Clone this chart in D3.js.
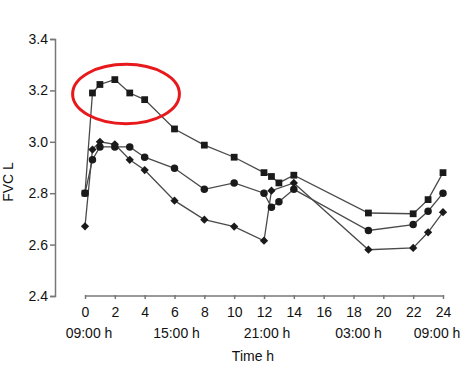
<!DOCTYPE html>
<html><head><meta charset="utf-8">
<script src="https://cdn.jsdelivr.net/npm/d3@7/dist/d3.min.js"></script>
<style>body{margin:0;background:#fff}svg{display:block;font-family:"Liberation Sans",Arial,sans-serif}</style>
</head><body><svg id="c" width="472" height="387"></svg>
<script>
const timesSquare = [0,0.5,1,2,3,4,6,8,10,12,12.5,13,14,19,22,23,24];
const valuesSquare = [2.80,3.19,3.223,3.242,3.19,3.164,3.05,2.987,2.94,2.88,2.865,2.84,2.87,2.723,2.72,2.775,2.88];
const timesCircle = [0,0.5,1,2,3,4,6,8,10,12,12.5,13,14,19,22,23,24];
const valuesCircle = [2.80,2.93,2.98,2.98,2.98,2.94,2.897,2.815,2.84,2.80,2.745,2.767,2.815,2.655,2.678,2.73,2.80];
const timesDiamond = [0,0.5,1,2,3,4,6,8,10,12,12.5,14,19,22,23,24];
const valuesDiamond = [2.671,2.97,3.0,2.99,2.93,2.89,2.771,2.697,2.67,2.615,2.81,2.84,2.58,2.587,2.648,2.726];
const yTicks = [2.4,2.6,2.8,3.0,3.2,3.4];
const xTicks = [0,2,4,6,8,10,12,14,16,18,20,22,24];
const clockTimes = [0,6,12,18,24];
const clockLabels = ["09:00 h","15:00 h","21:00 h","03:00 h","09:00 h"];

const svg = d3.select("#c");
const x = d3.scaleLinear().domain([0,24]).range([85,443]);
const y = d3.scaleLinear().domain([2.4,3.4]).range([296,39]);
const axisColor = "#777";

// Y axis
const ya = svg.append("g").attr("transform","translate(55,0)")
  .call(d3.axisLeft(y).tickValues(yTicks).tickFormat(d3.format(".1f")).tickSize(5).tickPadding(2));
ya.select(".domain").attr("stroke",axisColor).attr("stroke-width",1.5);
ya.selectAll(".tick line").attr("stroke",axisColor).attr("stroke-width",1.5);
ya.selectAll("text").attr("font-size",14).attr("fill","#111").attr("font-family","Liberation Sans, Arial, sans-serif");

// X axis
const xa = svg.append("g").attr("transform","translate(0,296)")
  .call(d3.axisBottom(x).tickValues(xTicks).tickSize(4).tickSizeOuter(4).tickPadding(7));
xa.select(".domain").attr("stroke",axisColor).attr("stroke-width",1.5);
xa.selectAll(".tick line").attr("stroke",axisColor).attr("stroke-width",1.5).attr("y1",-1).attr("y2",3);
xa.selectAll("text").attr("font-size",14).attr("fill","#111").attr("font-family","Liberation Sans, Arial, sans-serif");
xa.select(".domain").attr("d","M85,0H443");

const clockOffsets = [4,2,3,5,-6];
svg.append("g").selectAll("text").data(clockTimes).join("text")
  .attr("x",(d,i)=>x(d)+clockOffsets[i]).attr("y",338).attr("text-anchor","middle")
  .attr("font-size",14).attr("fill","#111").text((d,i)=>clockLabels[i]);

svg.append("text").attr("x",253).attr("y",361).attr("text-anchor","middle")
  .attr("font-size",14).attr("fill","#111").text("Time h");
svg.append("text").attr("transform","translate(13,182) rotate(-90)").attr("text-anchor","middle")
  .attr("font-size",14).attr("fill","#111").text("FVC L");

const line = d3.line().x(d=>x(d[0])).y(d=>y(d[1]));
const series = [
  {t:timesCircle, v:valuesCircle, sym:d3.symbolCircle, size:44, rot:0},
  {t:timesDiamond, v:valuesDiamond, sym:d3.symbolSquare, size:34, rot:45},
  {t:timesSquare, v:valuesSquare, sym:d3.symbolSquare, size:46, rot:0},
];
series.forEach(s=>{
  const pts = s.t.map((t,i)=>[t,s.v[i]]);
  svg.append("path").datum(pts).attr("d",line).attr("fill","none").attr("stroke","#4a4a4a").attr("stroke-width",1.3);
});
series.forEach(s=>{
  const pts = s.t.map((t,i)=>[t,s.v[i]]);
  svg.append("g").selectAll("path").data(pts).join("path")
    .attr("transform",d=>`translate(${x(d[0])},${y(d[1])}) rotate(${s.rot})`)
    .attr("d",d3.symbol().type(s.sym).size(s.size)).attr("fill","#1a1a1a");
});

// red ellipse highlight
const ecT = 2.75, ecV = 3.186;
svg.append("ellipse").attr("cx",x(ecT)).attr("cy",y(ecV))
  .attr("rx",x(ecT+3.58)-x(ecT)).attr("ry",y(ecV)-y(ecV+0.1155))
  .attr("fill","none").attr("stroke","#e8191c").attr("stroke-width",3);
</script></body></html>
